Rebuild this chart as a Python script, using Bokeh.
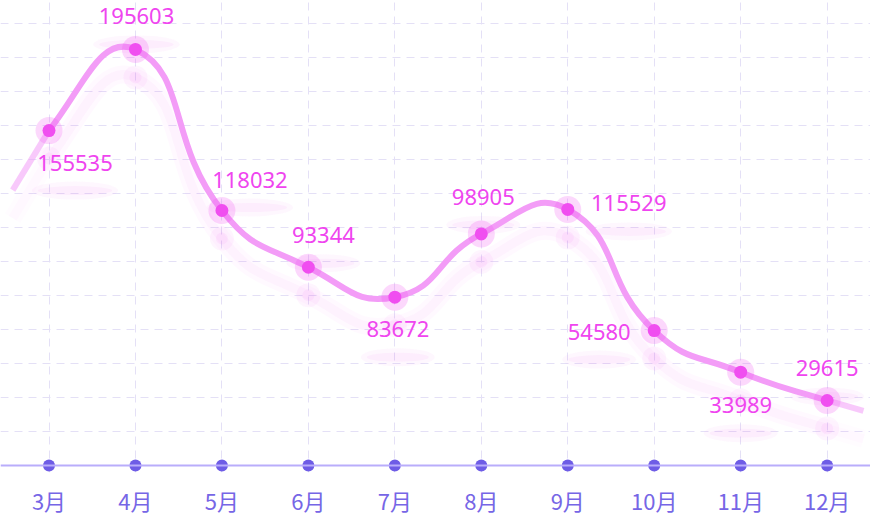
import math
import numpy as np
from bokeh.plotting import figure
from bokeh.models import Range1d, FixedTicker, Span, ColumnDataSource
from bokeh.embed import file_html
from bokeh.resources import INLINE
from bokeh.core.properties import value

# ---------------- data ----------------
months = ["3月", "4月", "5月", "6月", "7月", "8月", "9月", "10月", "11月", "12月"]
line_values = [157600, 195800, 120000, 93300, 79200, 109000, 120500, 63500, 43900, 30600]
label_values = [155535, 195603, 118032, 93344, 83672, 98905, 115529, 54580, 33989, 29615]
grid_step = 16000
grid_count = 13

# ---------------- styling / layout ----------------
LINE_COLOR = "#f39cf7"
POINT_COLOR = "#f04ef0"
LABEL_COLOR = "#ef45ef"
AXIS_DOT = "#6e5ce6"
AXIS_LINE = "#b9adfb"
TICK_COLOR = "#7666e6"
GRID_COLOR = "#e4e0f6"

FRAME_W, FRAME_H = 870, 472
SX = 86.46                 # px per category
SY = 34.0 / grid_step      # px per value unit
ZERO_FROM_BOTTOM = 7       # px between frame bottom and zero line
FIRST_X = 48.5             # px from frame left to first category
SHADOW_DY = 28             # px offset of the glow shadow

# label offsets in px (dx right, dy down) relative to each point
label_offsets = [(26, 32), (1, -33), (28, -31), (15, -32), (3, 32),
                 (2, -37), (61, -6), (-55, 1), (0, 33), (0, -32)]

n = len(months)
x_start = -FIRST_X / SX
x_end = x_start + FRAME_W / SX
y_start = -ZERO_FROM_BOTTOM / SY
y_end = y_start + FRAME_H / SY

p = figure(frame_width=FRAME_W, frame_height=FRAME_H,
           x_range=Range1d(x_start, x_end), y_range=Range1d(y_start, y_end),
           output_backend="svg", toolbar_location=None,
           min_border_left=0, min_border_right=0, min_border_top=0, min_border_bottom=0,
           outline_line_color=None, background_fill_color="white", border_fill_color="white")

# grids
p.yaxis.visible = False
p.ygrid.ticker = FixedTicker(ticks=[grid_step * k for k in range(1, grid_count + 1)])
p.ygrid.grid_line_color = GRID_COLOR
p.ygrid.grid_line_dash = "8 6"
p.ygrid.grid_line_width = 1
p.xgrid.ticker = FixedTicker(ticks=list(range(n)))
p.xgrid.grid_line_color = GRID_COLOR
p.xgrid.grid_line_dash = "8 6"
p.xgrid.grid_line_width = 1

# x axis
p.xaxis.ticker = FixedTicker(ticks=list(range(n)))
p.xaxis.major_label_overrides = {i: m for i, m in enumerate(months)}
p.xaxis.axis_line_color = None
p.xaxis.major_tick_line_color = None
p.xaxis.minor_tick_line_color = None
p.xaxis.major_tick_out = 0
p.xaxis.major_label_standoff = 11
p.xaxis.major_label_text_font = "Noto Sans CJK SC"
p.xaxis.major_label_text_font_size = "22px"
p.xaxis.major_label_text_color = TICK_COLOR

p.add_layout(Span(location=0, dimension="width", line_color=AXIS_LINE, line_width=2))

# ---------------- smooth curve (echarts-like) ----------------
v = np.array(line_values, dtype=float)
t_first = (3 * (v[1] - v[0]) - (v[2] - v[0]) / 2) / 2
t_last = (3 * (v[-1] - v[-2]) - (v[-1] - v[-3]) / 2) / 2
ex = np.concatenate([[-1.0], np.arange(n, dtype=float), [float(n)]])
ey = np.concatenate([[v[0] - t_first], v, [v[-1] + t_last]])
px, py = ex * SX, ey * SY
S = 0.5
cin, cout = [], []
for k in range(1, n + 1):
    vx, vy = px[k + 1] - px[k - 1], py[k + 1] - py[k - 1]
    l0 = math.hypot(px[k] - px[k - 1], py[k] - py[k - 1])
    l1 = math.hypot(px[k + 1] - px[k], py[k + 1] - py[k])
    r = l1 / (l0 + l1)
    cout.append(((px[k] + vx * S * r) / SX, (py[k] + vy * S * r) / SY))
    cin.append(((px[k] - vx * S * (1 - r)) / SX, (py[k] - vy * S * (1 - r)) / SY))

bz = dict(x0=[], y0=[], x1=[], y1=[], cx0=[], cy0=[], cx1=[], cy1=[])
for k in range(n - 1):
    bz["x0"].append(k); bz["y0"].append(v[k])
    bz["x1"].append(k + 1); bz["y1"].append(v[k + 1])
    bz["cx0"].append(cout[k][0]); bz["cy0"].append(cout[k][1])
    bz["cx1"].append(cin[k + 1][0]); bz["cy1"].append(cin[k + 1][1])

tail = 0.42
tails = dict(x0=[0, n - 1], y0=[v[0], v[-1]],
             x1=[-tail, n - 1 + tail], y1=[v[0] - t_first * tail, v[-1] + t_last * tail])

off = SHADOW_DY / SY
bz_sh = dict(bz)
for key in ("y0", "y1", "cy0", "cy1"):
    bz_sh[key] = [yy - off for yy in bz[key]]
tails_sh = dict(tails)
tails_sh["y0"] = [yy - off for yy in tails["y0"]]
tails_sh["y1"] = [yy - off for yy in tails["y1"]]

# glow shadow of the line
for w, a in ((18, 0.03), (9, 0.04)):
    p.bezier(source=ColumnDataSource(bz_sh), x0="x0", y0="y0", x1="x1", y1="y1",
             cx0="cx0", cy0="cy0", cx1="cx1", cy1="cy1",
             line_color=POINT_COLOR, line_width=w, line_alpha=a)
    p.segment(source=ColumnDataSource(tails_sh), x0="x0", y0="y0", x1="x1", y1="y1",
              line_color=POINT_COLOR, line_width=w, line_alpha=a * 0.6)

# shadow blobs under points and labels
xs = list(range(n))
p.scatter(xs, [y - off for y in v], size=24, color=POINT_COLOR, alpha=0.06, line_color=None)
p.scatter(xs, [y - off for y in v], size=12, color=POINT_COLOR, alpha=0.07, line_color=None)

lx = [i + dx / SX for i, (dx, dy) in enumerate(label_offsets)]
ly = [v[i] - dy / SY for i, (dx, dy) in enumerate(label_offsets)]
txt = [str(t) for t in label_values]
tw = [12.4 * len(t) for t in txt]
p.ellipse(x=lx, y=[yy - off for yy in ly], width=[w + 12 for w in tw], height=18,
          width_units="screen", height_units="screen",
          fill_color=POINT_COLOR, fill_alpha=0.045, line_color=None)
p.ellipse(x=lx, y=[yy - off for yy in ly], width=tw, height=9,
          width_units="screen", height_units="screen",
          fill_color=POINT_COLOR, fill_alpha=0.06, line_color=None)

# main line
p.bezier(source=ColumnDataSource(bz), x0="x0", y0="y0", x1="x1", y1="y1",
         cx0="cx0", cy0="cy0", cx1="cx1", cy1="cy1",
         line_color=LINE_COLOR, line_width=6, line_cap="round")
p.segment(source=ColumnDataSource(tails), x0="x0", y0="y0", x1="x1", y1="y1",
          line_color=LINE_COLOR, line_width=6, line_alpha=0.55)

# points
p.scatter(xs, list(v), size=27, color=POINT_COLOR, alpha=0.22, line_color=None)
p.scatter(xs, list(v), size=13, color=POINT_COLOR, line_color=None)

# labels
p.text(x=lx, y=ly, text=txt, text_font=value("Noto Sans"), text_font_size="22px",
       text_color=LABEL_COLOR, text_align="center", text_baseline="middle")

# axis dots
p.scatter(xs, [0] * n, size=12, color=AXIS_DOT, line_color=None)

open("out.html", "w").write(file_html(p, INLINE))
